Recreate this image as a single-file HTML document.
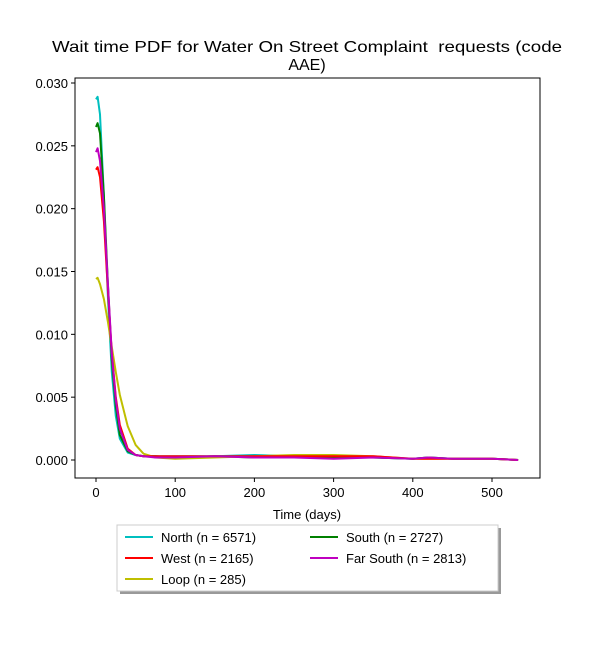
<!DOCTYPE html>
<html><head><meta charset="utf-8"><style>
body{margin:0;background:#fff;}
svg{font-family:"Liberation Sans","DejaVu Sans",sans-serif;}
</style></head><body>
<svg id="chart" width="600" height="650">
<text x="307" y="52" font-size="16" text-anchor="middle" textLength="510" lengthAdjust="spacingAndGlyphs" style="white-space:pre">Wait time PDF for Water On Street Complaint  requests (code</text>
<text x="307" y="70" font-size="16" text-anchor="middle">AAE)</text>
<g id="plot"></g>
<rect x="75" y="78" width="465" height="400" fill="none" stroke="#000" stroke-width="1"/>
<text x="307" y="519" font-size="13" text-anchor="middle">Time (days)</text>
<g id="legend">
<rect x="120" y="528" width="381" height="66" fill="#999"/>
<rect x="117" y="525" width="381" height="66" fill="#fff" stroke="#ccc"/>
</g>
</svg>
<script>
const days=[0,2,5,10,15,20,25,30,40,50,60,75,100,150,200,250,300,350,400,420,450,500,533];
const northVals=[0.0287,0.0289,0.0275,0.021,0.013,0.007,0.0035,0.0017,0.0006,0.0004,0.0003,0.0003,0.0003,0.0003,0.0004,0.0003,0.0002,0.0002,0.0001,0.0002,0.0001,0.0001,0.0];
const southVals=[0.0265,0.0268,0.026,0.021,0.014,0.008,0.0043,0.002,0.0007,0.0004,0.0003,0.0003,0.0002,0.0003,0.0002,0.0002,0.0002,0.0002,0.0001,0.0002,0.0001,0.0001,0.0];
const farSouthVals=[0.0245,0.0248,0.0238,0.020,0.014,0.0085,0.0048,0.0025,0.0008,0.0004,0.0003,0.0002,0.0002,0.0003,0.0002,0.0002,0.0001,0.0002,0.0001,0.0002,0.0001,0.0001,0.0];
const westVals=[0.0231,0.0233,0.0225,0.019,0.0135,0.0085,0.005,0.0028,0.0009,0.0004,0.0003,0.0003,0.0003,0.0003,0.0003,0.0003,0.0003,0.0003,0.0001,0.0001,0.0001,0.0001,0.0];
const loopVals=[0.0144,0.0145,0.014,0.0128,0.011,0.009,0.007,0.0052,0.0027,0.0012,0.0005,0.0002,0.0001,0.0002,0.0003,0.0004,0.0004,0.0003,0.0001,0.0001,0.0001,0.0001,0.0];
const xTicks=[0,100,200,300,400,500];
const yTicks=[0,0.005,0.010,0.015,0.020,0.025,0.030];
const seriesNames=["North (n = 6571)","West (n = 2165)","Loop (n = 285)","South (n = 2727)","Far South (n = 2813)"];
const X=d=>96+d*0.792, Y=v=>460-v*12566.7;
const NS="http://www.w3.org/2000/svg";
const svg=document.getElementById('chart'),plot=document.getElementById('plot'),leg=document.getElementById('legend');
function mk(t,a,p){const e=document.createElementNS(NS,t);for(const k in a)e.setAttribute(k,a[k]);(p||svg).appendChild(e);return e;}
xTicks.forEach(t=>{
 const l=mk('line',{x1:X(t),x2:X(t),y1:478,y2:482,stroke:'#000'});
 
 
 const tx=mk('text',{x:X(t),y:497,'font-size':13,'text-anchor':'middle'});tx.textContent=t;
 
 
});
yTicks.forEach(t=>{
 const l=mk('line',{x1:71,x2:75,y1:Y(t),y2:Y(t),stroke:'#000'});
 
 
 const tx=mk('text',{x:68,y:Y(t)+5,'font-size':13,'text-anchor':'end'});tx.textContent=t.toFixed(3);
 
 
});
const series=[[northVals,'#00bfbf','north'],[southVals,'#008000','south'],[loopVals,'#bfbf00','loop'],[westVals,'#ff0000','west'],[farSouthVals,'#bf00bf','far-south']];
series.forEach(([vals,c,n])=>{
 const pts=days.map((d,i)=>X(d).toFixed(1)+','+Y(vals[i]).toFixed(1)).join(' ');
 const p=mk('polyline',{points:pts,fill:'none',stroke:c,'stroke-width':2,'stroke-linejoin':'round'},plot);
 
 
});
const legColors=['#00bfbf','#ff0000','#bfbf00','#008000','#bf00bf'];
const legPos=[[125,542],[125,563],[125,584],[310,542],[310,563]];
seriesNames.forEach((s,i)=>{
 const [x,y]=legPos[i];
 const l=mk('line',{x1:x,x2:x+28,y1:y-5,y2:y-5,stroke:legColors[i],'stroke-width':2},leg);
 
 
 const t=mk('text',{x:x+36,y:y,'font-size':13},leg);t.textContent=s;
 
 
});
</script>
</body></html>
